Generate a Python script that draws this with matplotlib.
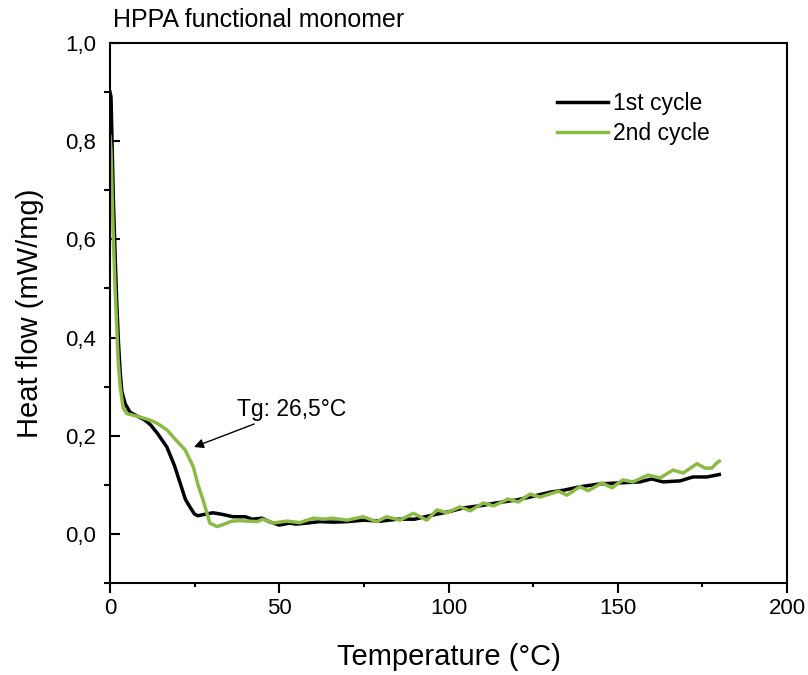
import matplotlib
matplotlib.use("Agg")
import matplotlib.pyplot as plt
from matplotlib.ticker import MultipleLocator, FuncFormatter

plt.rcParams['font.family'] = ['Liberation Sans', 'DejaVu Sans']

# 1st cycle
t1 = [0, 0.3, 0.6, 1.0, 1.5, 2.0, 2.5, 3.0, 3.5, 4.5, 5.9, 8, 10.3, 12, 14, 16.8, 19, 20.7,
      22.3, 23.6, 25, 26, 28, 30.4, 33, 36.3, 40, 42, 45, 47, 50, 53, 55, 58, 62, 66, 70,
      75, 80, 85, 90, 95, 100, 104.4, 110, 114, 120, 124, 130, 134, 138.8, 144.8, 150.7,
      156.6, 160, 163.4, 168.4, 172.2, 176.3, 179.3, 180]
h1 = [0.90, 0.89, 0.80, 0.68, 0.57, 0.47, 0.39, 0.33, 0.29, 0.265, 0.248, 0.240, 0.232, 0.222,
      0.205, 0.177, 0.14, 0.104, 0.07, 0.055, 0.04, 0.037, 0.04, 0.043, 0.04, 0.035, 0.035,
      0.030, 0.032, 0.025, 0.018, 0.022, 0.020, 0.022, 0.025, 0.024, 0.025, 0.028, 0.026,
      0.030, 0.030, 0.038, 0.045, 0.053, 0.058, 0.063, 0.069, 0.075, 0.085, 0.089, 0.096,
      0.102, 0.104, 0.106, 0.112, 0.106, 0.108, 0.116, 0.116, 0.120, 0.121]

# 2nd cycle
t2 = [0, 0.3, 0.6, 1.0, 1.5, 2.0, 2.4, 3.0, 3.9, 5, 8.9, 11.8, 14, 16.8, 19, 22.2, 24.6, 26,
      27.5, 29.5, 31.6, 33, 34.5, 36, 38.4, 41, 43.4, 45.2, 48.2, 50, 52.3, 56.1, 60, 63,
      65.9, 70, 74.8, 78.8, 81.7, 85.7, 89.6, 93.6, 96.6, 99.5, 103.4, 106.4, 110.3, 113.3,
      117.6, 120.6, 124.1, 127, 132.5, 135, 138.8, 141.3, 145.3, 148.3, 151.5, 154.5, 159,
      162.5, 166.3, 169.3, 173.4, 175.8, 177.8, 179.3, 180]
h2 = [0.81, 0.78, 0.70, 0.60, 0.50, 0.42, 0.354, 0.30, 0.256, 0.245, 0.238, 0.232, 0.225,
      0.212, 0.195, 0.171, 0.137, 0.10, 0.069, 0.022, 0.015, 0.018, 0.022, 0.026, 0.027,
      0.026, 0.025, 0.030, 0.022, 0.024, 0.026, 0.023, 0.032, 0.030, 0.032, 0.028, 0.035,
      0.025, 0.035, 0.028, 0.042, 0.028, 0.049, 0.043, 0.055, 0.047, 0.063, 0.057, 0.071,
      0.065, 0.081, 0.075, 0.087, 0.079, 0.096, 0.088, 0.104, 0.094, 0.110, 0.106, 0.120,
      0.114, 0.130, 0.124, 0.143, 0.134, 0.134, 0.145, 0.148]

labels = ["1st cycle", "2nd cycle"]
colors = ["#000000", "#8BBB45"]

fig = plt.figure(figsize=(8.08, 6.75), dpi=100)
ax = fig.add_axes([110/808, 1-583/675, (787-110)/808, (583-43)/675])

ax.plot(t1, h1, color=colors[0], lw=2.5, label=labels[0], solid_joinstyle='round')
ax.plot(t2, h2, color=colors[1], lw=2.5, label=labels[1], solid_joinstyle='round')

ax.set_xlim(0, 200)
ax.set_ylim(-0.1, 1.0)
ax.xaxis.set_major_locator(MultipleLocator(50))
ax.xaxis.set_minor_locator(MultipleLocator(25))
ax.yaxis.set_major_locator(MultipleLocator(0.2))
ax.yaxis.set_minor_locator(MultipleLocator(0.1))
ax.yaxis.set_major_formatter(FuncFormatter(lambda v, p: f"{v:.1f}".replace('.', ',')))

for s in ax.spines.values():
    s.set_linewidth(1.5)
ax.tick_params(axis='x', which='major', direction='out', length=7, width=1.5, labelsize=16, pad=4)
ax.tick_params(axis='x', which='minor', direction='out', length=3, width=1.5)
ax.tick_params(axis='y', which='major', direction='in', length=7, width=1.5, labelsize=16, pad=10)
ax.tick_params(axis='y', which='minor', direction='out', length=4, width=1.5)

ax.set_xlabel("Temperature (°C)", fontsize=21, labelpad=17)
ax.set_ylabel("Heat flow (mW/mg)", fontsize=21, labelpad=15)

fig.text(113/808, 1-20/675, "HPPA functional monomer", fontsize=18, ha='left', va='center')

ax.annotate("Tg: 26,5°C", xy=(24.8, 0.177), xytext=(37.5, 0.253), fontsize=16.5,
            ha='left', va='center',
            arrowprops=dict(arrowstyle='-|>', color='black', lw=1, shrinkA=0, shrinkB=0,
                            mutation_scale=14))

ax.legend(loc='upper left', bbox_to_anchor=(0.630, 0.947), frameon=False, fontsize=16.5,
          handlelength=2.2, handletextpad=0.25, labelspacing=0.3)

fig.savefig("out.png", dpi=100)
